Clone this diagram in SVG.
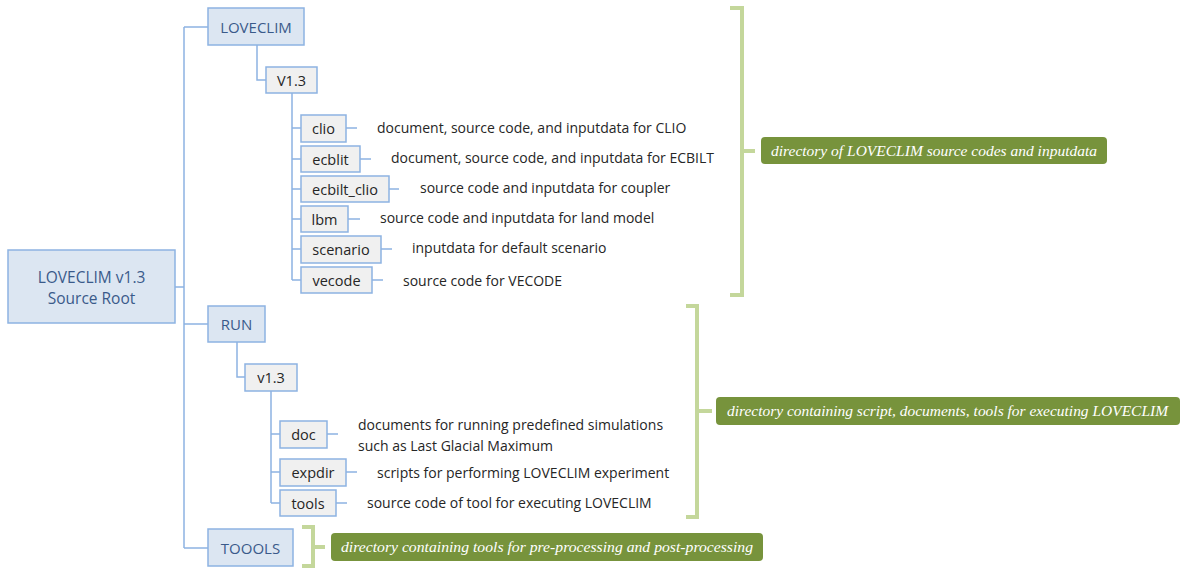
<svg xmlns="http://www.w3.org/2000/svg" width="1184" height="570" viewBox="0 0 1184 570">
<style>
.l1{fill:#dce6f2;stroke:#8db3e2;stroke-width:1.5}
.l2{fill:#f0f0f0;stroke:#8db3e2;stroke-width:1.5}
.t1{font-family:"Open Sans","DejaVu Sans",sans-serif;font-size:15px;fill:#3a5a8a;text-anchor:middle;dominant-baseline:central}
.t2{font-family:"Open Sans","DejaVu Sans",sans-serif;font-size:14.5px;fill:#262626;text-anchor:middle;dominant-baseline:central}
.d{font-family:"Open Sans","DejaVu Sans",sans-serif;font-size:14px;fill:#262626;dominant-baseline:central}
.c{fill:none;stroke:#8db3e2;stroke-width:1.5}
.br{fill:none;stroke:#c4d79b;stroke-width:4}
.gb{fill:#77933c}
.gt{font-family:"Liberation Serif","Times New Roman",serif;font-style:italic;font-size:15px;fill:#ffffff;dominant-baseline:central}
</style>
<g id="connectors">
<path class="c" d="M184 27 V548 M184 27 H208 M175 287 H184 M184 324 H208 M184 548 H208"/>
<path class="c" d="M257 45 V80 H266"/>
<path class="c" d="M292 93 V280 M292 128 H301 M292 159 H301 M292 189 H301 M292 219 H301 M292 249 H301 M292 280 H301"/>
<path class="c" d="M346 128 H357 M360 159 H371 M389 189 H399 M348 219 H360 M381 249 H392 M372 280 H383"/>
<path class="c" d="M237 342 V377 H245"/>
<path class="c" d="M271 391 V503 M271 434 H280 M271 472 H280 M271 503 H280"/>
<path class="c" d="M327 434 H338 M346 472 H357 M336 503 H347"/>
</g>
<g id="root"><rect class="l1" x="8" y="250" width="167" height="73"/><text class="t1" style="font-size:15.5px" x="91.5" y="277">LOVECLIM v1.3</text><text class="t1" style="font-size:15.5px" x="91.5" y="298">Source Root</text></g>
<g id="loveclim"><rect class="l1" x="208" y="8" width="96" height="37"/><text class="t1" x="256" y="27">LOVECLIM</text></g>
<g id="v13a"><rect class="l2" x="266" y="67" width="51" height="26"/><text class="t2" x="291.5" y="80">V1.3</text></g>
<g id="clio"><rect class="l2" x="301" y="115" width="45" height="27"/><text class="t2" x="323.5" y="128.5">clio</text><text class="d" x="377" y="127">document, source code, and inputdata for CLIO</text></g>
<g id="ecblit"><rect class="l2" x="301" y="146" width="59" height="26"/><text class="t2" x="330.5" y="159">ecblit</text><text class="d" x="391" y="157">document, source code, and inputdata for ECBILT</text></g>
<g id="ecbilt_clio"><rect class="l2" x="301" y="176" width="88" height="26"/><text class="t2" x="345" y="189">ecbilt_clio</text><text class="d" x="420" y="187">source code and inputdata for coupler</text></g>
<g id="lbm"><rect class="l2" x="301" y="206" width="47" height="26"/><text class="t2" x="324.5" y="219">lbm</text><text class="d" x="380" y="217">source code and inputdata for land model</text></g>
<g id="scenario"><rect class="l2" x="301" y="236" width="80" height="27"/><text class="t2" x="341" y="249.5">scenario</text><text class="d" x="412" y="247">inputdata for default scenario</text></g>
<g id="vecode"><rect class="l2" x="301" y="267" width="71" height="26"/><text class="t2" x="336.5" y="280">vecode</text><text class="d" x="403" y="280">source code for VECODE</text></g>
<g id="run"><rect class="l1" x="208" y="306" width="57" height="36"/><text class="t1" x="236.5" y="324">RUN</text></g>
<g id="v13b"><rect class="l2" x="245" y="364" width="52" height="27"/><text class="t2" x="271" y="377.5">v1.3</text></g>
<g id="doc"><rect class="l2" x="280" y="421" width="47" height="27"/><text class="t2" x="303.5" y="434.5">doc</text><text class="d" x="358" y="424">documents for running predefined simulations</text><text class="d" x="358" y="445">such as Last Glacial Maximum</text></g>
<g id="expdir"><rect class="l2" x="280" y="459" width="66" height="27"/><text class="t2" x="313" y="472.5">expdir</text><text class="d" x="377" y="472">scripts for performing LOVECLIM experiment</text></g>
<g id="tools"><rect class="l2" x="280" y="490" width="56" height="26"/><text class="t2" x="308" y="503">tools</text><text class="d" x="367" y="502">source code of tool for executing LOVECLIM</text></g>
<g id="toools"><rect class="l1" x="208" y="529" width="85" height="37"/><text class="t1" x="250.5" y="547.5">TOOOLS</text></g>
<g id="note1"><path class="br" d="M730 8 H742 V295 H730 M742 151 H755"/><rect class="gb" x="761" y="137" width="346" height="27" rx="4"/><text class="gt" x="771" y="151" textLength="326" lengthAdjust="spacingAndGlyphs">directory of LOVECLIM source codes and inputdata</text></g>
<g id="note2"><path class="br" d="M686 306 H697 V517 H686 M697 411 H712"/><rect class="gb" x="716" y="397" width="464" height="28" rx="4"/><text class="gt" x="727" y="411" textLength="441" lengthAdjust="spacingAndGlyphs">directory containing script, documents, tools for executing LOVECLIM</text></g>
<g id="note3"><path class="br" d="M302 527 H313 V566 H302 M313 547 H325"/><rect class="gb" x="331" y="533" width="432" height="28" rx="4"/><text class="gt" x="341" y="547" textLength="412" lengthAdjust="spacingAndGlyphs">directory containing tools for pre-processing and post-processing</text></g>
</svg>
